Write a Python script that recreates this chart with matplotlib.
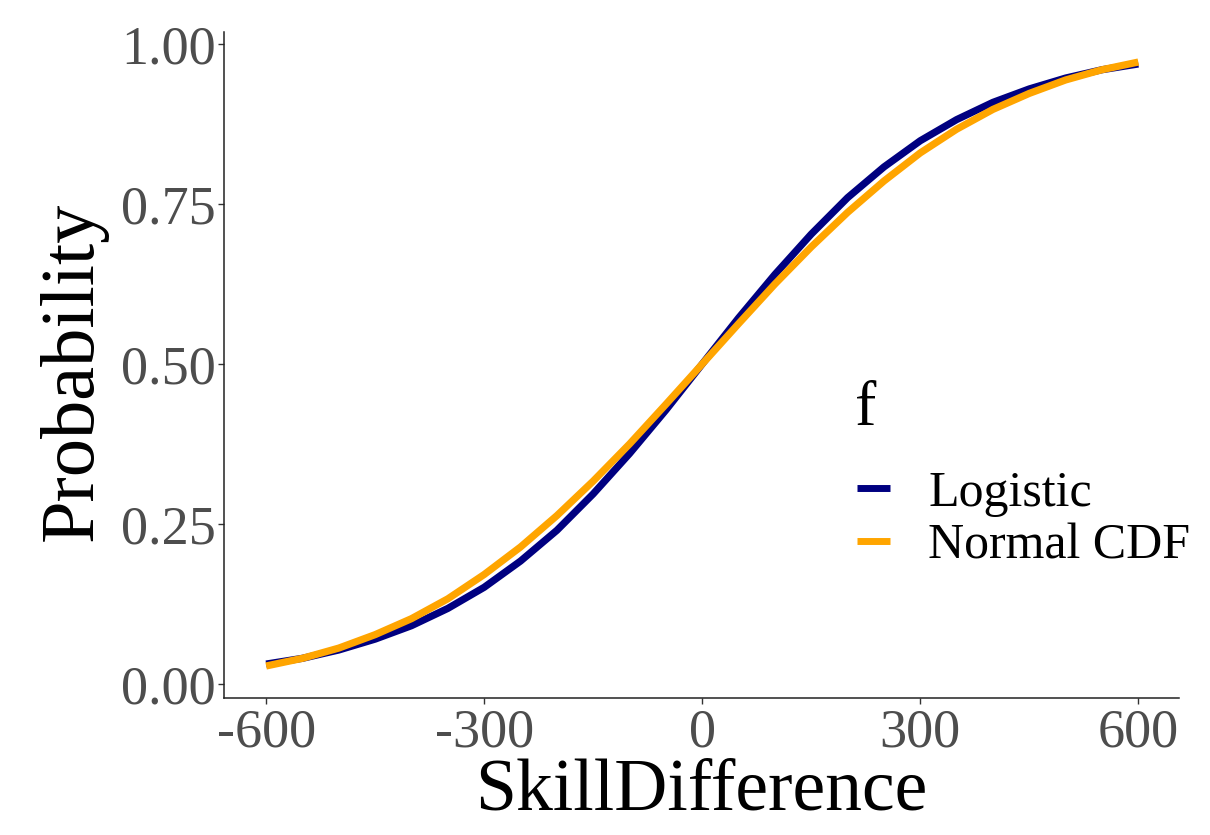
#!/usr/bin/env python3
"""Logistic vs normal CDF win probability by skill difference."""

import matplotlib
matplotlib.use('Agg')
import matplotlib.pyplot as plt

# values, every 50 points of skill difference
skill_diff = [-600, -550, -500, -450, -400, -350, -300, -250, -200, -150, -100, -50, 0,
              50, 100, 150, 200, 250, 300, 350, 400, 450, 500, 550, 600]
logistic = [0.031, 0.040, 0.053, 0.070, 0.091, 0.118, 0.151, 0.192, 0.240, 0.297, 0.360, 0.428, 0.500,
            0.572, 0.640, 0.703, 0.760, 0.808, 0.849, 0.882, 0.909, 0.930, 0.947, 0.960, 0.969]
normal_cdf = [0.028, 0.040, 0.056, 0.077, 0.102, 0.133, 0.171, 0.214, 0.263, 0.317, 0.375, 0.437, 0.500,
              0.563, 0.625, 0.683, 0.737, 0.786, 0.830, 0.867, 0.898, 0.923, 0.944, 0.960, 0.972]
series_names = ['Logistic', 'Normal CDF']
series_colors = ['#000080', '#FFA500']
x_ticks = [-600, -300, 0, 300, 600]
y_ticks = [0.00, 0.25, 0.50, 0.75, 1.00]

plt.rcParams['font.family'] = ['Liberation Serif', 'DejaVu Serif']

fig = plt.figure(figsize=(12.1, 8.35), dpi=100)
ax = fig.add_axes([0.1851, 0.1641, 0.7893, 0.7976])

for ys, name, col in zip([logistic, normal_cdf], series_names, series_colors):
    ax.plot(skill_diff, ys, color=col, lw=5.2, label=name, solid_capstyle='butt')

ax.set_xlim(-658, 656)
ax.set_ylim(-0.022, 1.019)
ax.set_xticks(x_ticks)
ax.set_xticklabels([str(v) for v in x_ticks])
ax.set_yticks(y_ticks)
ax.set_yticklabels([f'{v:.2f}' for v in y_ticks])

for side in ['top', 'right']:
    ax.spines[side].set_visible(False)
for side in ['left', 'bottom']:
    ax.spines[side].set_linewidth(1.1)
    ax.spines[side].set_color('#222222')
ax.tick_params(axis='both', length=4, width=1.0, color='#333333',
               labelsize=39, labelcolor='#4D4D4D')
ax.tick_params(axis='x', pad=3)
ax.tick_params(axis='y', pad=2)

ax.set_xlabel('SkillDifference', fontsize=53, color='black')
ax.xaxis.set_label_coords(0.5, -0.090)
ax.set_ylabel('Probability', fontsize=55, color='black')
ax.yaxis.set_label_coords(-0.122, 0.49)

# legend title placed on its own so the gap to the keys can match
fig.text(0.7066, 0.491, 'f', fontsize=46, color='black', ha='left', va='baseline')
leg = fig.legend(loc='upper left', bbox_to_anchor=(0.7083, 0.437),
                 frameon=False, fontsize=36,
                 handlelength=0.66, handletextpad=0.76, labelspacing=0.13,
                 borderpad=0, borderaxespad=0)
for line in leg.get_lines():
    line.set_linewidth(5)

plt.savefig('out.png', dpi=100)
plt.close()
